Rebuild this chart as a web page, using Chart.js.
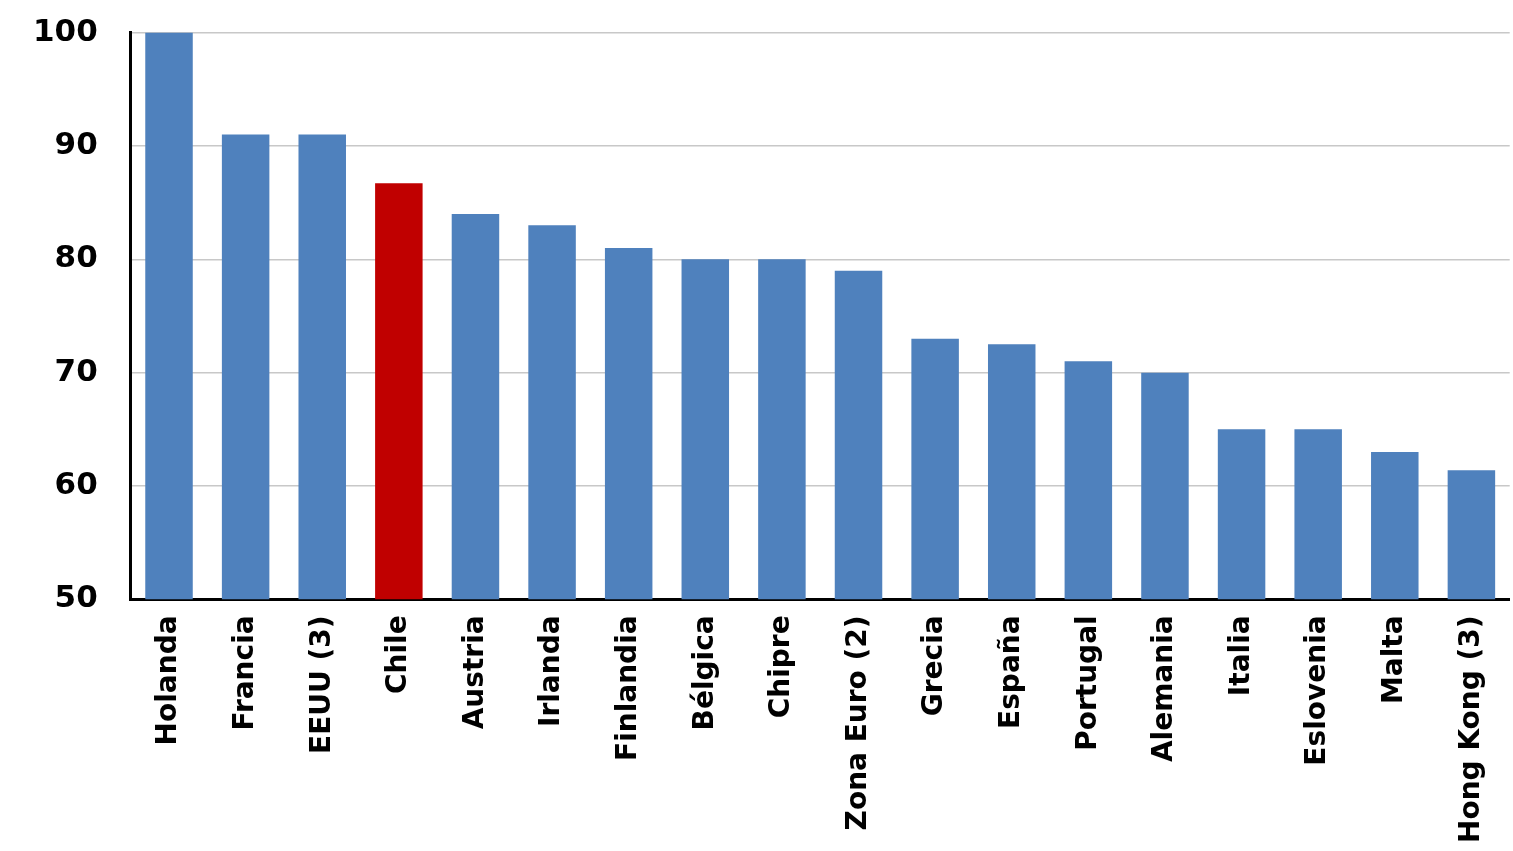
<!DOCTYPE html>
<html>
<head>
<meta charset="utf-8">
<script src="https://cdn.jsdelivr.net/npm/chart.js@4"></script>
<style>
  html, body { margin: 0; padding: 0; background: #fff; overflow: hidden; }
  #wrap { width: 1513px; height: 870px; margin-top: -19px; }
</style>
</head>
<body>
<div id="wrap"><canvas id="chart"></canvas></div>
<script>
// Datos
const categories = ['Holanda', 'Francia', 'EEUU (3)', 'Chile', 'Austria', 'Irlanda', 'Finlandia', 'Bélgica', 'Chipre',
    'Zona Euro (2)', 'Grecia', 'España', 'Portugal', 'Alemania', 'Italia', 'Eslovenia', 'Malta', 'Hong Kong (3)'];
const values = [100, 91, 91, 86.7, 84, 83, 81, 80, 80, 79, 73, 72.5, 71, 70, 65, 65, 63, 61.4];
const yTicks = [50, 60, 70, 80, 90, 100];

const colors = categories.map(c => c === 'Chile' ? '#C00000' : '#4F81BD');

new Chart(document.getElementById('chart'), {
    type: 'bar',
    data: {
        labels: categories,
        datasets: [{
            data: values,
            backgroundColor: colors,
            barPercentage: 0.62,
            categoryPercentage: 1.0
        }]
    },
    options: {
        responsive: true,
        maintainAspectRatio: false,
        animation: false,
        layout: { padding: { top: 0, right: 0, left: 0, bottom: 0 } },
        plugins: { legend: { display: false }, tooltip: { enabled: false } },
        scales: {
            x: {
                grid: { display: false },
                border: { color: '#000', width: 3 },
                ticks: {
                    color: '#000',
                    minRotation: 90,
                    maxRotation: 90,
                    padding: 8,
                    font: { family: 'DejaVu Sans', size: 28, weight: 'bold' }
                }
            },
            y: {
                min: 50,
                max: 100,
                afterBuildTicks: axis => { axis.ticks = yTicks.map(v => ({ value: v })); },
                grid: { color: '#c8c8c8', lineWidth: 1.5, drawTicks: false },
                border: { color: '#000', width: 3 },
                ticks: {
                    color: '#000',
                    padding: 33,
                    font: { family: 'DejaVu Sans', size: 31, weight: 'bold' }
                }
            }
        }
    }
});
</script>
</body>
</html>
